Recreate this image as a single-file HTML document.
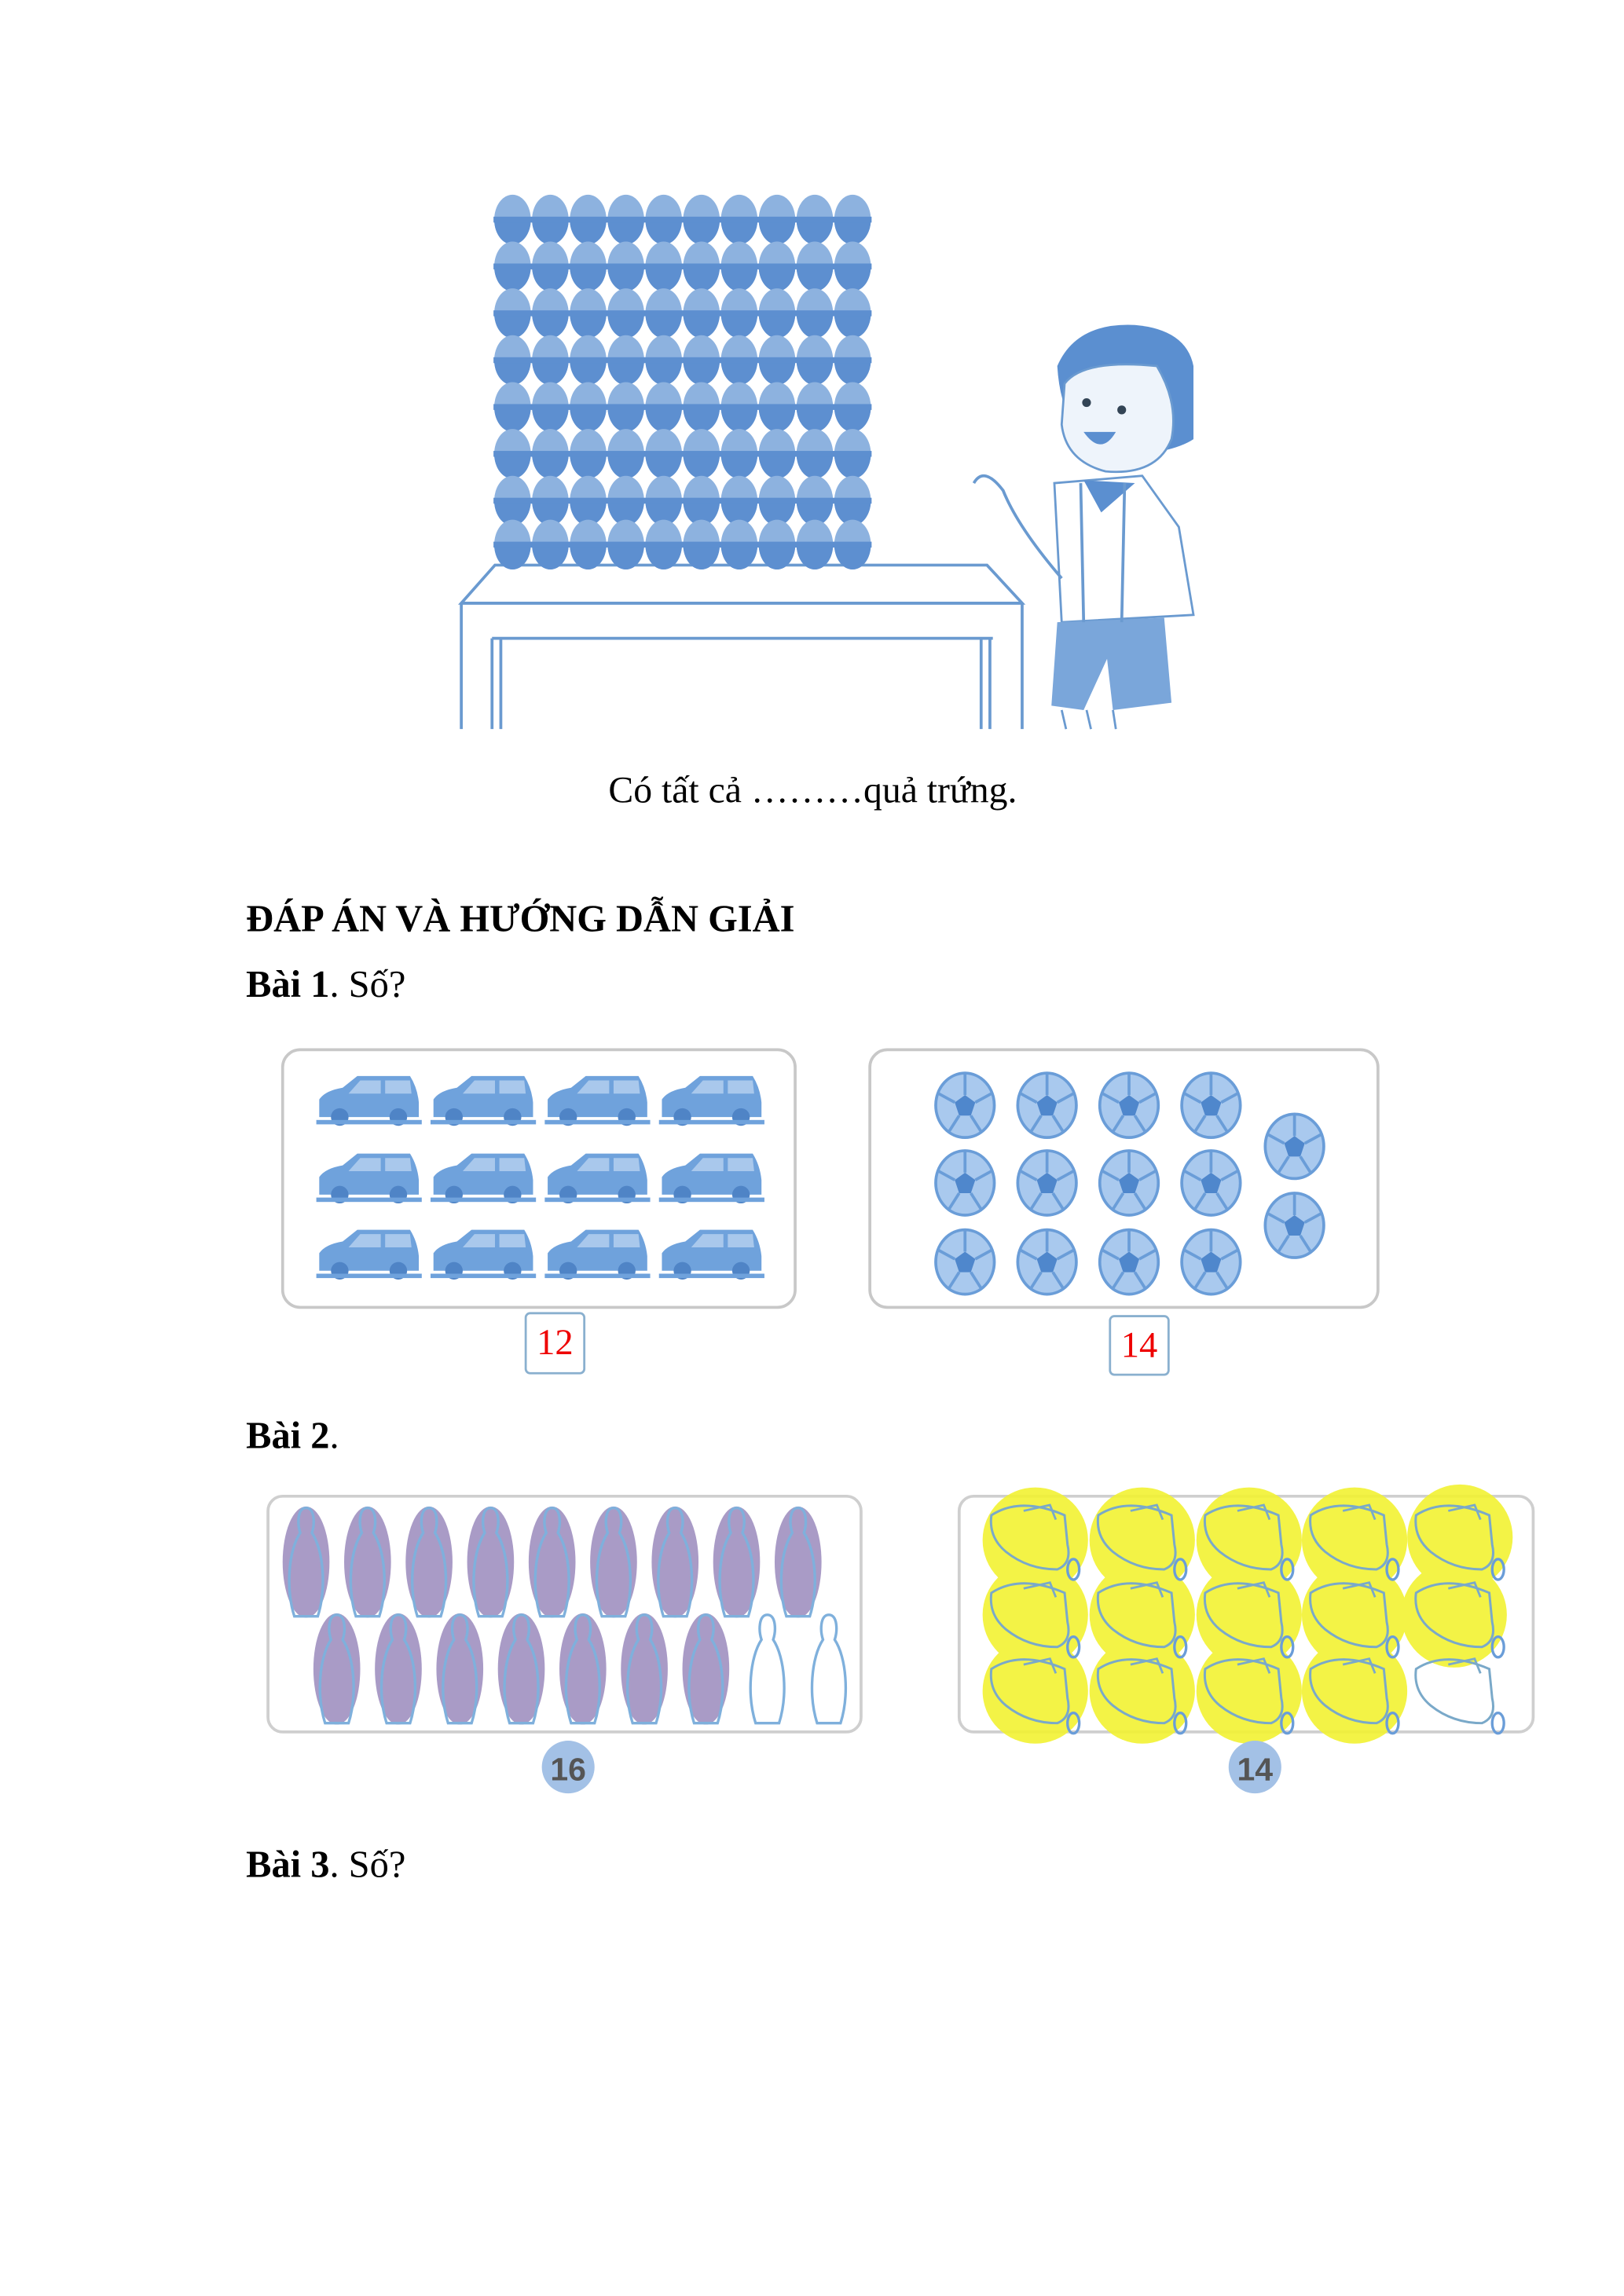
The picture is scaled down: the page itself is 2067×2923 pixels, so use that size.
<!DOCTYPE html>
<html><head><meta charset="utf-8"><style>
html,body{margin:0;padding:0;background:#fff;}
svg{display:block;}
text{font-family:"Liberation Serif",serif;}
</style></head><body>
<svg width="2067" height="2923" viewBox="0 0 1109 1568.3" xmlns="http://www.w3.org/2000/svg">
<defs>
<g id="egg">
<ellipse cx="0" cy="0" rx="12.5" ry="17" fill="#8db2df"/>
<path d="M-12.5,0 A12.5,17 0 0 0 12.5,0 Z" fill="#5d8fd0"/>
<rect x="-13" y="-2" width="26" height="4" fill="#5d8fd0"/>
</g>
<g id="car">
<path d="M-34,8 L-34,-2 Q-30,-8 -18,-10 L-8,-18 L28,-18 Q33,-10 34,0 L34,10 L-34,10 Z" fill="#6fa2dc"/>
<path d="M-6,-15 L8,-15 L8,-6 L-14,-6 Z M11,-15 L28,-15 L29,-6 L11,-6 Z" fill="#a9c8ec"/>
<circle cx="-20" cy="10" r="6" fill="#4f84c6"/><circle cx="20" cy="10" r="6" fill="#4f84c6"/>
<rect x="-36" y="12" width="72" height="3" fill="#6fa2dc"/>
</g>
<g id="ball">
<ellipse cx="0" cy="0" rx="20" ry="22" fill="#a9c9ee" stroke="#6a9dd8" stroke-width="2"/>
<polygon points="0,-7 7,-2 4,7 -4,7 -7,-2" fill="#4f87cc"/>
<path d="M0,-22 L0,-7 M7,-2 L18,-8 M4,7 L11,18 M-4,7 L-11,18 M-7,-2 L-18,-8" stroke="#6a9dd8" stroke-width="2"/>
</g>
<g id="pin">
<path d="M0,-37 C6,-37 6,-26 4,-20 C12,-8 14,18 8,37 L-8,37 C-14,18 -12,-8 -4,-20 C-6,-26 -6,-37 0,-37 Z" fill="none" stroke="#7fb0dc" stroke-width="1.8"/>
</g>
<g id="whistle">
<path d="M-30,-15 Q-10,-28 20,-15 L22,5 Q25,18 15,22 Q-5,22 -20,10 Q-32,0 -30,-15 Z" fill="none" stroke="#7aa9c9" stroke-width="1.6"/>
<path d="M-8,-18 L10,-22 L14,-12" fill="none" stroke="#7aa9c9" stroke-width="1.5"/>
<ellipse cx="26" cy="22" rx="4" ry="7" fill="none" stroke="#6a9dd8" stroke-width="1.8"/>
</g>
</defs>

<!-- table -->
<g fill="none" stroke="#6a9ad0" stroke-width="2">
<path d="M315,412 L338,386 L674,386 L698,412 Z"/>
<path d="M315,412 L698,412 M315,412 L315,498 M698,412 L698,498 M336,436 L678,436 M336,436 L336,498 M342,436 L342,498 M670,436 L670,498 M676,436 L676,498"/>
</g>

<!-- boy -->
<g>
<path d="M722,250 Q735,220 775,222 Q810,225 815,250 L815,300 Q800,310 760,312 Q725,300 722,250 Z" fill="#5b8fd0"/>
<path d="M727,262 Q740,245 790,250 Q805,275 800,300 Q790,325 755,322 Q728,315 725,290 Z" fill="#eef4fb" stroke="#6a9ad0" stroke-width="1.5"/>
<circle cx="742" cy="275" r="3" fill="#345"/><circle cx="766" cy="280" r="3" fill="#345"/>
<path d="M740,295 Q752,312 762,295 Z" fill="#5b8fd0"/>
<path d="M720,330 L780,325 L805,360 L815,420 L725,425 Z" fill="#fff" stroke="#6a9ad0" stroke-width="1.5"/>
<path d="M740,328 L752,350 L775,330 Z" fill="#5b8fd0"/>
<path d="M722,425 L795,422 L800,480 L760,485 L756,450 L740,485 L718,482 Z" fill="#7aa6da"/>
<path d="M738,330 L740,425 M768,330 L766,425" stroke="#6a9ad0" stroke-width="2"/>
<path d="M665,330 Q672,318 685,335 Q695,360 725,395" fill="none" stroke="#6a9ad0" stroke-width="2"/>
<path d="M725,485 L728,498 M760,485 L762,498 M742,485 L745,498" stroke="#6a9ad0" stroke-width="1.5"/>
</g>

<text x="555" y="548" font-size="25.6" text-anchor="middle">Có tất cả ………quả trứng.</text>

<text x="168" y="636" font-size="26" font-weight="bold">ĐÁP ÁN VÀ HƯỚNG DẪN GIẢI</text>
<text x="168" y="681" font-size="26"><tspan font-weight="bold">Bài 1</tspan>. Số?</text>

<!-- box1 cars -->
<rect x="193" y="717" width="350" height="176" rx="12" fill="#fff" stroke="#c8c8c8" stroke-width="2"/>
<g>
<use href="#car" x="252" y="753"/><use href="#car" x="330" y="753"/><use href="#car" x="408" y="753"/><use href="#car" x="486" y="753"/>
<use href="#car" x="252" y="806"/><use href="#car" x="330" y="806"/><use href="#car" x="408" y="806"/><use href="#car" x="486" y="806"/>
<use href="#car" x="252" y="858"/><use href="#car" x="330" y="858"/><use href="#car" x="408" y="858"/><use href="#car" x="486" y="858"/>
</g>
<rect x="359" y="897" width="40" height="41" rx="3" fill="#fff" stroke="#8ab0cf" stroke-width="1.5"/>
<text x="379" y="925" font-size="25" fill="#e00" text-anchor="middle">12</text>

<!-- box2 balls -->
<rect x="594" y="717" width="347" height="176" rx="12" fill="#fff" stroke="#c8c8c8" stroke-width="2"/>
<g>
<use href="#ball" x="659" y="755"/><use href="#ball" x="715" y="755"/><use href="#ball" x="771" y="755"/><use href="#ball" x="827" y="755"/>
<use href="#ball" x="659" y="808"/><use href="#ball" x="715" y="808"/><use href="#ball" x="771" y="808"/><use href="#ball" x="827" y="808"/>
<use href="#ball" x="659" y="862"/><use href="#ball" x="715" y="862"/><use href="#ball" x="771" y="862"/><use href="#ball" x="827" y="862"/>
<use href="#ball" x="884" y="783"/><use href="#ball" x="884" y="837"/>
</g>
<rect x="758" y="899" width="40" height="40" rx="3" fill="#fff" stroke="#8ab0cf" stroke-width="1.5"/>
<text x="778" y="927" font-size="25" fill="#e00" text-anchor="middle">14</text>

<text x="168" y="989" font-size="26"><tspan font-weight="bold">Bài 2</tspan>.</text>

<!-- box3 pins -->
<rect x="183" y="1022" width="405" height="161" rx="10" fill="#fff" stroke="#cfcfcf" stroke-width="2"/>
<g fill="#a99bc6">
<ellipse cx="209" cy="1067" rx="16" ry="38"/><ellipse cx="251" cy="1067" rx="16" ry="38"/><ellipse cx="293" cy="1067" rx="16" ry="38"/><ellipse cx="335" cy="1067" rx="16" ry="38"/><ellipse cx="377" cy="1067" rx="16" ry="38"/><ellipse cx="419" cy="1067" rx="16" ry="38"/><ellipse cx="461" cy="1067" rx="16" ry="38"/><ellipse cx="503" cy="1067" rx="16" ry="38"/><ellipse cx="545" cy="1067" rx="16" ry="38"/>
<ellipse cx="230" cy="1140" rx="16" ry="38"/><ellipse cx="272" cy="1140" rx="16" ry="38"/><ellipse cx="314" cy="1140" rx="16" ry="38"/><ellipse cx="356" cy="1140" rx="16" ry="38"/><ellipse cx="398" cy="1140" rx="16" ry="38"/><ellipse cx="440" cy="1140" rx="16" ry="38"/><ellipse cx="482" cy="1140" rx="16" ry="38"/>
</g>
<g>
<use href="#pin" x="209" y="1067"/><use href="#pin" x="251" y="1067"/><use href="#pin" x="293" y="1067"/><use href="#pin" x="335" y="1067"/><use href="#pin" x="377" y="1067"/><use href="#pin" x="419" y="1067"/><use href="#pin" x="461" y="1067"/><use href="#pin" x="503" y="1067"/><use href="#pin" x="545" y="1067"/>
<use href="#pin" x="230" y="1140"/><use href="#pin" x="272" y="1140"/><use href="#pin" x="314" y="1140"/><use href="#pin" x="356" y="1140"/><use href="#pin" x="398" y="1140"/><use href="#pin" x="440" y="1140"/><use href="#pin" x="482" y="1140"/><use href="#pin" x="524" y="1140"/><use href="#pin" x="566" y="1140"/>
</g>
<circle cx="388" cy="1207" r="18" fill="#a3c1e6"/>
<text x="388" y="1216" font-size="22" font-weight="bold" fill="#555" text-anchor="middle" style="font-family:'Liberation Sans',sans-serif">16</text>

<!-- box4 whistles -->
<rect x="655" y="1022" width="392" height="161" rx="10" fill="#fff" stroke="#cfcfcf" stroke-width="2"/>
<g fill="#f2f232" opacity="0.9">
<circle cx="707" cy="1052" r="36"/><circle cx="780" cy="1052" r="36"/><circle cx="853" cy="1052" r="36"/><circle cx="925" cy="1052" r="36"/><circle cx="997" cy="1050" r="36"/>
<circle cx="707" cy="1103" r="36"/><circle cx="780" cy="1103" r="36"/><circle cx="853" cy="1103" r="36"/><circle cx="925" cy="1103" r="36"/><circle cx="993" cy="1103" r="36"/>
<circle cx="707" cy="1155" r="36"/><circle cx="780" cy="1155" r="36"/><circle cx="853" cy="1155" r="36"/><circle cx="925" cy="1155" r="36"/>
</g>
<g>
<use href="#whistle" x="707" y="1050"/><use href="#whistle" x="780" y="1050"/><use href="#whistle" x="853" y="1050"/><use href="#whistle" x="925" y="1050"/><use href="#whistle" x="997" y="1050"/>
<use href="#whistle" x="707" y="1103"/><use href="#whistle" x="780" y="1103"/><use href="#whistle" x="853" y="1103"/><use href="#whistle" x="925" y="1103"/><use href="#whistle" x="997" y="1103"/>
<use href="#whistle" x="707" y="1155"/><use href="#whistle" x="780" y="1155"/><use href="#whistle" x="853" y="1155"/><use href="#whistle" x="925" y="1155"/><use href="#whistle" x="997" y="1155"/>
</g>
<circle cx="857" cy="1207" r="18" fill="#a3c1e6"/>
<text x="857" y="1216" font-size="22" font-weight="bold" fill="#555" text-anchor="middle" style="font-family:'Liberation Sans',sans-serif">14</text>

<text x="168" y="1282" font-size="26"><tspan font-weight="bold">Bài 3</tspan>. Số?</text>

<!-- egg grid -->
<g transform="translate(-3,0)">
<use href="#egg" x="353" y="150"/><use href="#egg" x="378.8" y="150"/><use href="#egg" x="404.6" y="150"/><use href="#egg" x="430.4" y="150"/><use href="#egg" x="456.2" y="150"/><use href="#egg" x="482" y="150"/><use href="#egg" x="507.8" y="150"/><use href="#egg" x="533.6" y="150"/><use href="#egg" x="559.4" y="150"/><use href="#egg" x="585.2" y="150"/>
<use href="#egg" x="353" y="182"/><use href="#egg" x="378.8" y="182"/><use href="#egg" x="404.6" y="182"/><use href="#egg" x="430.4" y="182"/><use href="#egg" x="456.2" y="182"/><use href="#egg" x="482" y="182"/><use href="#egg" x="507.8" y="182"/><use href="#egg" x="533.6" y="182"/><use href="#egg" x="559.4" y="182"/><use href="#egg" x="585.2" y="182"/>
<use href="#egg" x="353" y="214"/><use href="#egg" x="378.8" y="214"/><use href="#egg" x="404.6" y="214"/><use href="#egg" x="430.4" y="214"/><use href="#egg" x="456.2" y="214"/><use href="#egg" x="482" y="214"/><use href="#egg" x="507.8" y="214"/><use href="#egg" x="533.6" y="214"/><use href="#egg" x="559.4" y="214"/><use href="#egg" x="585.2" y="214"/>
<use href="#egg" x="353" y="246"/><use href="#egg" x="378.8" y="246"/><use href="#egg" x="404.6" y="246"/><use href="#egg" x="430.4" y="246"/><use href="#egg" x="456.2" y="246"/><use href="#egg" x="482" y="246"/><use href="#egg" x="507.8" y="246"/><use href="#egg" x="533.6" y="246"/><use href="#egg" x="559.4" y="246"/><use href="#egg" x="585.2" y="246"/>
<use href="#egg" x="353" y="278"/><use href="#egg" x="378.8" y="278"/><use href="#egg" x="404.6" y="278"/><use href="#egg" x="430.4" y="278"/><use href="#egg" x="456.2" y="278"/><use href="#egg" x="482" y="278"/><use href="#egg" x="507.8" y="278"/><use href="#egg" x="533.6" y="278"/><use href="#egg" x="559.4" y="278"/><use href="#egg" x="585.2" y="278"/>
<use href="#egg" x="353" y="310"/><use href="#egg" x="378.8" y="310"/><use href="#egg" x="404.6" y="310"/><use href="#egg" x="430.4" y="310"/><use href="#egg" x="456.2" y="310"/><use href="#egg" x="482" y="310"/><use href="#egg" x="507.8" y="310"/><use href="#egg" x="533.6" y="310"/><use href="#egg" x="559.4" y="310"/><use href="#egg" x="585.2" y="310"/>
<use href="#egg" x="353" y="342"/><use href="#egg" x="378.8" y="342"/><use href="#egg" x="404.6" y="342"/><use href="#egg" x="430.4" y="342"/><use href="#egg" x="456.2" y="342"/><use href="#egg" x="482" y="342"/><use href="#egg" x="507.8" y="342"/><use href="#egg" x="533.6" y="342"/><use href="#egg" x="559.4" y="342"/><use href="#egg" x="585.2" y="342"/>
<use href="#egg" x="353" y="372"/><use href="#egg" x="378.8" y="372"/><use href="#egg" x="404.6" y="372"/><use href="#egg" x="430.4" y="372"/><use href="#egg" x="456.2" y="372"/><use href="#egg" x="482" y="372"/><use href="#egg" x="507.8" y="372"/><use href="#egg" x="533.6" y="372"/><use href="#egg" x="559.4" y="372"/><use href="#egg" x="585.2" y="372"/>
</g>
</svg>
</body></html>
